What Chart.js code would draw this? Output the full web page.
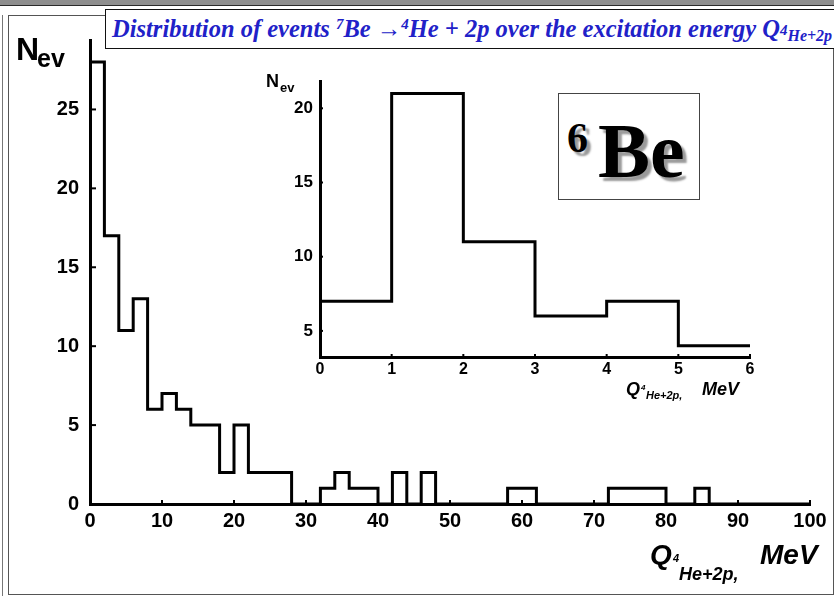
<!DOCTYPE html>
<html>
<head>
<meta charset="utf-8">
<script src="https://cdn.jsdelivr.net/npm/chart.js@4.4.0/dist/chart.umd.min.js"></script>
<style>
  html, body { margin: 0; padding: 0; background: #fff; }
  #stage { position: relative; width: 834px; height: 598px; overflow: hidden; background: #fff; }
  #topStrip { position: absolute; left: 0; top: 0; width: 834px; height: 5px; background: #8e8e8e; border-bottom: 1px solid #2a2a2a; }
  #outerLine { position: absolute; left: 2px; top: 15px; height: 581px; border-left: 1.5px solid #777; }
  #panel { position: absolute; left: 8px; top: 15px; width: 826px; height: 580px; border: 1.5px solid #555; box-sizing: border-box; }
  #mainWrap { position: absolute; left: 0; top: 0; width: 834px; height: 598px; }
  #insetWrap { position: absolute; left: 250px; top: 60px; width: 540px; height: 340px; }
  canvas { display: block; }
  #title { position: absolute; left: 105px; top: 9px; width: 760px; height: 40px; border: 1.5px solid #111; box-sizing: border-box; background: #fff;
           color: #2121c8; font: italic bold 24.5px 'Liberation Serif', serif; white-space: nowrap; padding-left: 6px; line-height: 37px; }
  #title sup { font-size: 15px; vertical-align: 8px; line-height: 0; }
  #title .q4 { font-size: 15px; vertical-align: 2px; }
  #title .qs { font-size: 16px; vertical-align: -4px; }
  .lbl { position: absolute; white-space: nowrap; line-height: 1; color: #000; font-family: 'Liberation Sans', Arial, sans-serif; font-weight: bold; }
  .it { font-style: italic; }
  #tag { position: absolute; left: 558px; top: 93px; width: 142px; height: 107px; border: 1px solid #444; box-sizing: border-box; background: #fff; }
  .serif { position: absolute; line-height: 1; font-family: 'Liberation Serif', serif; font-weight: bold; color: #000; text-shadow: 4px 4px 2px #9a9a9a; white-space: nowrap; }
</style>
</head>
<body>
<div id="stage">
  <div id="topStrip"></div>
  <div id="outerLine"></div>
  <div id="panel"></div>
  <div id="mainWrap"><canvas id="mainChart" width="834" height="598"></canvas></div>
  <div id="insetWrap"><canvas id="insetChart" width="540" height="340"></canvas></div>

  <div id="title">Distribution of events <sup>7</sup>Be &rarr;<sup>4</sup>He + 2p over the excitation energy Q<span class="q4">4</span><span class="qs">He+2p</span></div>

  <!-- main axis titles -->
  <div class="lbl" style="left:16px;top:33px;font-size:32px;">N</div>
  <div class="lbl" style="left:37px;top:46px;font-size:25px;">ev</div>
  <div class="lbl it" style="left:650px;top:541px;font-size:28px;">Q</div>
  <div class="lbl it" style="left:673px;top:553px;font-size:11px;">4</div>
  <div class="lbl it" style="left:679px;top:565px;font-size:18px;">He+2p,</div>
  <div class="lbl it" style="left:760px;top:541px;font-size:28px;">MeV</div>

  <!-- inset axis titles -->
  <div class="lbl" style="left:266px;top:72px;font-size:18px;">N</div>
  <div class="lbl" style="left:280px;top:81px;font-size:13px;">ev</div>
  <div class="lbl it" style="left:626px;top:380px;font-size:18px;">Q</div>
  <div class="lbl it" style="left:641px;top:384px;font-size:8px;">4</div>
  <div class="lbl it" style="left:646px;top:390px;font-size:11px;">He+2p,</div>
  <div class="lbl it" style="left:702px;top:380px;font-size:18px;">MeV</div>

  <div id="tag"></div>
  <div class="serif" style="left:567px;top:117px;font-size:42px;">6</div>
  <div class="serif" style="left:598px;top:112px;font-size:78px;">Be</div>
</div>

<script>
// Event counts per excitation-energy bin, Q(4He+2p) in MeV (full range)
const mainEdges  = [0, 2, 4, 6, 8, 10, 12, 14, 18, 20, 22, 28, 32, 34, 36, 40, 42, 44, 46, 48, 58, 62, 72, 80, 84, 86, 100];
const mainCounts = [28, 17, 11, 13, 6, 7, 6, 5, 2, 5, 2, 0, 1, 2, 1, 0, 2, 0, 2, 0, 1, 0, 1, 0, 1, 0];
const mainXTicks = [0, 10, 20, 30, 40, 50, 60, 70, 80, 90, 100];
const mainYTicks = [0, 5, 10, 15, 20, 25];

// Low-energy detail, 1 MeV bins (6Be region)
const insetEdges  = [0, 1, 2, 3, 4, 5, 6];
const insetCounts = [7, 21, 11, 6, 7, 4];
const insetXTicks = [0, 1, 2, 3, 4, 5, 6];
const insetYTicks = [5, 10, 15, 20];

// Histogram outline: one point per bin start, plus the closing edge
function stepPoints(edges, counts) {
  const pts = counts.map((c, i) => ({ x: edges[i], y: c }));
  pts.push({ x: edges[edges.length - 1], y: counts[counts.length - 1] });
  return pts;
}

// Short tick marks pointing into the plot area
const innerTicks = {
  id: 'innerTicks',
  afterDatasetsDraw(chart, args, opts) {
    const { ctx, chartArea } = chart;
    const xs = chart.scales.x, ys = chart.scales.y;
    ctx.save();
    ctx.strokeStyle = '#000';
    ctx.lineWidth = opts.width;
    xs.ticks.forEach(t => {
      const px = xs.getPixelForValue(t.value);
      ctx.beginPath();
      ctx.moveTo(px, chartArea.bottom);
      ctx.lineTo(px, chartArea.bottom - opts.xLen);
      ctx.stroke();
    });
    ys.ticks.forEach(t => {
      const py = ys.getPixelForValue(t.value);
      ctx.beginPath();
      ctx.moveTo(chartArea.left, py);
      ctx.lineTo(chartArea.left + opts.yLen, py);
      ctx.stroke();
    });
    ctx.restore();
  }
};

function axis(min, max, tickList, fontSize, pad, fitKey, fitVal) {
  return {
    type: 'linear', min, max,
    afterBuildTicks: s => { s.ticks = tickList.map(v => ({ value: v })); },
    afterFit: s => { s[fitKey] = fitVal; },
    grid: { display: false, drawTicks: false },
    border: { display: true, color: '#000', width: 3 },
    ticks: { color: '#000', padding: pad, autoSkip: false, maxRotation: 0,
             font: { family: "'Liberation Sans', Arial, sans-serif", weight: 'bold', size: fontSize } }
  };
}

function histChart(id, edges, counts, scales, padding, tickOpts) {
  return new Chart(document.getElementById(id), {
    type: 'line',
    data: { datasets: [{
      data: stepPoints(edges, counts),
      stepped: 'before',
      borderColor: '#000', borderWidth: 3,
      borderJoinStyle: 'miter', borderCapStyle: 'butt',
      pointRadius: 0, fill: false, clip: false
    }] },
    options: {
      responsive: false, animation: false, devicePixelRatio: 1,
      layout: { padding },
      parsing: false,
      plugins: { legend: { display: false }, tooltip: { enabled: false }, innerTicks: tickOpts },
      scales
    },
    plugins: [innerTicks]
  });
}

histChart('mainChart', mainEdges, mainCounts, {
  x: axis(0, 100, mainXTicks, 20, 5, 'height', 94),
  y: axis(0, 29.4, mainYTicks, 20, 11, 'width', 90)
}, { left: 0, top: 40, right: 24, bottom: 0 }, { width: 2, xLen: 4, yLen: 6 });

histChart('insetChart', insetEdges, insetCounts, {
  x: axis(0, 6, insetXTicks, 16, 3, 'height', 43),
  y: axis(3.24, 21.84, insetYTicks, 17, 7, 'width', 70)
}, { left: 0, top: 21, right: 40, bottom: 0 }, { width: 2, xLen: 3, yLen: 3 });
</script>
</body>
</html>
